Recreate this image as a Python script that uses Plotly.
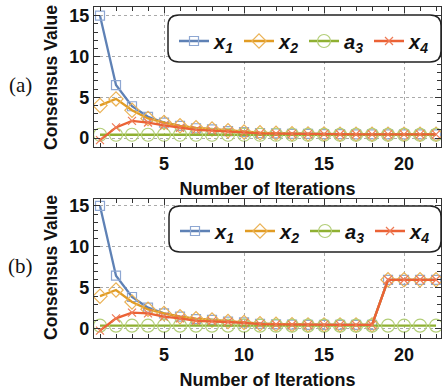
import plotly.graph_objects as go

iterations = list(range(1, 23))

# Panel (a)
x1_a = [15.0, 6.5, 3.9, 2.6, 1.9, 1.5, 1.2, 1.05, 0.85, 0.72, 0.62, 0.56, 0.52, 0.5, 0.48, 0.47, 0.46, 0.46, 0.45, 0.45, 0.45, 0.45]
x2_a = [4.0, 4.8, 3.4, 2.4, 1.9, 1.5, 1.25, 1.1, 0.9, 0.75, 0.65, 0.58, 0.53, 0.5, 0.48, 0.47, 0.46, 0.46, 0.45, 0.45, 0.45, 0.45]
a3_a = [0.4] * 22
x4_a = [-0.25, 1.3, 2.1, 1.9, 1.55, 1.25, 1.0, 0.9, 0.78, 0.66, 0.58, 0.53, 0.5, 0.48, 0.47, 0.46, 0.46, 0.45, 0.45, 0.45, 0.45, 0.45]

# Panel (b)
x1_b = [15.0, 6.5, 3.9, 2.6, 1.9, 1.5, 1.2, 1.1, 0.9, 0.8, 0.62, 0.56, 0.52, 0.5, 0.5, 0.5, 0.5, 0.5, 6.0, 6.0, 6.0, 6.0]
x2_b = [4.0, 4.75, 3.3, 2.4, 1.9, 1.5, 1.25, 1.1, 0.9, 0.8, 0.65, 0.58, 0.53, 0.5, 0.5, 0.5, 0.5, 0.5, 6.0, 6.0, 6.0, 6.0]
a3_b = [0.4] * 22
x4_b = [-0.2, 1.3, 2.0, 1.9, 1.5, 1.3, 1.0, 0.95, 0.85, 0.75, 0.6, 0.55, 0.52, 0.5, 0.5, 0.5, 0.5, 0.5, 6.0, 6.0, 6.0, 6.0]

x_ticks = [5, 10, 15, 20]
y_ticks = [0, 5, 10, 15]
x_title = "Number of Iterations"
y_title = "Consensus Value"
panel_labels = ["(a)", "(b)"]

series_names = ["x<sub>1</sub>", "x<sub>2</sub>", "a<sub>3</sub>", "x<sub>4</sub>"]
line_colors = ["#5E81B5", "#E19C24", "#8FB032", "#EB6235"]
marker_colors = ["#8EA7D2", "#EBB255", "#B3CE78", "#EE7A55"]
symbols = ["square-open", "diamond-open", "circle-open", "x-thin-open"]
msizes = [9, 11, 13, 8]

W, H = 442, 391
ML, MR, MT, MB = 94, 1, 7, 53
PW, PH = W - ML - MR, H - MT - MB


def px2x(px):
    return (px - ML) / PW


def py2y(py):
    return (H - MB - py) / PH


fig = go.Figure()
panels = [(x1_a, x2_a, a3_a, x4_a), (x1_b, x2_b, a3_b, x4_b)]
for p, data in enumerate(panels):
    sfx = "" if p == 0 else "2"
    for i, vals in enumerate(data):
        fig.add_trace(go.Scatter(
            x=iterations, y=vals, name=series_names[i], mode="lines+markers",
            line=dict(color=line_colors[i], width=2.3),
            marker=dict(symbol=symbols[i], size=msizes[i], color=marker_colors[i],
                        line=dict(width=1.2, color=marker_colors[i])),
            xaxis="x" + sfx, yaxis="y" + sfx,
            legend="legend" if p == 0 else "legend2",
        ))

font_main = dict(family="Liberation Sans, Arial, sans-serif", color="#111")
axis_common = dict(
    showline=True, linecolor="#333", linewidth=1.3, mirror="ticks",
    ticks="inside", ticklen=6, tickwidth=1, tickcolor="#333",
    showgrid=True, gridcolor="#AAAAAA", griddash="dot", gridwidth=1,
    zeroline=False, automargin=False,
    tickfont=dict(size=18, weight="bold", **font_main),
)
minor_common = dict(dtick=1, tick0=0, ticks="inside", ticklen=3.5, tickcolor="#333", showgrid=False)

y_a = [py2y(147), py2y(7)]
y_b = [py2y(338), py2y(199)]

xtitle = dict(text=x_title, standoff=9, font=dict(size=18, weight="bold", **font_main))

fig.update_layout(
    width=W, height=H,
    margin=dict(l=ML, r=MR, t=MT, b=MB, autoexpand=False),
    plot_bgcolor="white", paper_bgcolor="white",
    xaxis=dict(domain=[0, 1], anchor="y", range=[0.625, 22.31], tickvals=x_ticks,
               minor=minor_common, title=xtitle, **axis_common),
    yaxis=dict(domain=y_a, anchor="x", range=[-1.10, 16.07], tickvals=y_ticks,
               minor=minor_common, **axis_common),
    xaxis2=dict(domain=[0, 1], anchor="y2", range=[0.625, 22.31], tickvals=x_ticks,
                minor=minor_common, title=xtitle, **axis_common),
    yaxis2=dict(domain=y_b, anchor="x2", range=[-1.10, 15.85], tickvals=y_ticks,
                minor=minor_common, **axis_common),
    legend=dict(orientation="h", x=px2x(174), y=py2y(41), xanchor="left", yanchor="middle",
                bgcolor="rgba(0,0,0,0)", borderwidth=0, entrywidth=20, entrywidthmode="pixels",
                font=dict(size=20, weight="bold", style="italic", **font_main)),
    legend2=dict(orientation="h", x=px2x(175), y=py2y(231), xanchor="left", yanchor="middle",
                 bgcolor="rgba(0,0,0,0)", borderwidth=0, entrywidth=20, entrywidthmode="pixels",
                 font=dict(size=20, weight="bold", style="italic", **font_main)),
)


def rounded_rect(x0, y0, x1, y1, r):
    def P(px, py):
        return f"{px2x(px):.5f},{py2y(py):.5f}"
    return (f"M {P(x0 + r, y0)} L {P(x1 - r, y0)} Q {P(x1, y0)} {P(x1, y0 + r)} "
            f"L {P(x1, y1 - r)} Q {P(x1, y1)} {P(x1 - r, y1)} "
            f"L {P(x0 + r, y1)} Q {P(x0, y1)} {P(x0, y1 - r)} "
            f"L {P(x0, y0 + r)} Q {P(x0, y0)} {P(x0 + r, y0)} Z")


for box in [(168, 15, 441, 62), (169, 206, 441, 252)]:
    fig.add_shape(type="path", xref="paper", yref="paper", path=rounded_rect(*box, 11),
                  line=dict(color="#222", width=1.5), fillcolor="rgba(255,255,255,1)", layer="above")

for txt, py in zip(panel_labels, [85, 266]):
    fig.add_annotation(text=txt, xref="paper", yref="paper", x=px2x(20), y=py2y(py),
                       xanchor="center", yanchor="middle", showarrow=False,
                       font=dict(family="Liberation Serif, Times New Roman, serif", size=21, color="#111"))

for py in [78, 268]:
    fig.add_annotation(text=y_title, xref="paper", yref="paper", x=px2x(51), y=py2y(py),
                       xanchor="center", yanchor="middle", showarrow=False, textangle=-90,
                       font=dict(size=17.5, weight="bold", **font_main))

fig.write_html("out.html", config={"displayModeBar": False})

# remove the default page margin so the figure sits at the window's top-left corner
with open("out.html", "r", encoding="utf-8") as f:
    html = f.read()
html = html.replace("<head>", "<head><style>html,body{margin:0;padding:0;overflow:hidden;}</style>", 1)
with open("out.html", "w", encoding="utf-8") as f:
    f.write(html)
